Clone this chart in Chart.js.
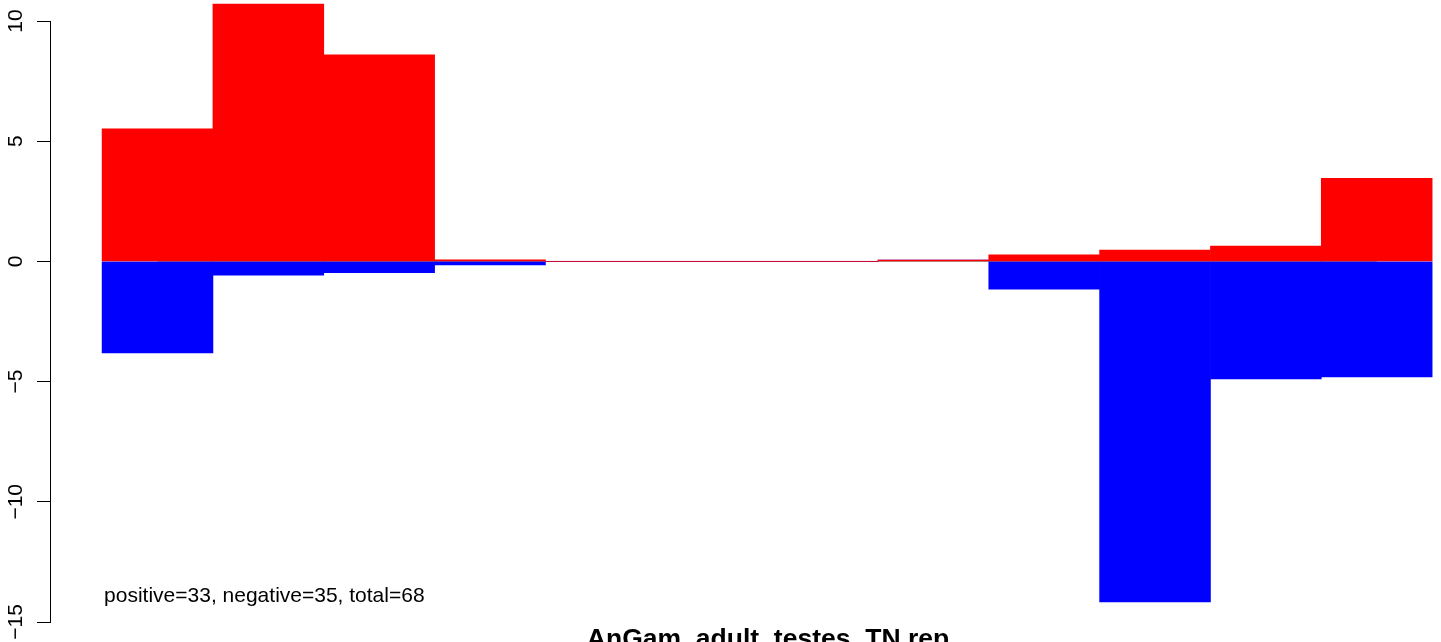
<!DOCTYPE html>
<html>
<head>
<meta charset="utf-8">
<title>AnGam_adult_testes_TN.rep</title>
<script src="https://cdn.jsdelivr.net/npm/chart.js@4/dist/chart.umd.min.js"></script>
<style>
  html, body { margin: 0; padding: 0; background: #ffffff; }
  #wrap { width: 1441px; height: 642px; }
</style>
</head>
<body>
<div id="wrap"><canvas id="bars" width="1441" height="642"></canvas></div>
<script>
// bins along the x axis (no labels are shown in the original)
const bins = [1, 2, 3, 4, 5, 6, 7, 8, 9, 10, 11, 12];
// red bars above zero, blue bars below zero
const positive = [5.51, 10.7, 8.59, 0.07, 0, 0, 0, 0.05, 0.27, 0.47, 0.64, 3.46];
const negative = [-3.81, -0.57, -0.47, -0.15, 0, 0, 0, 0, -1.15, -14.16, -4.89, -4.81];
const yTicks = [-15, -10, -5, 0, 5, 10];

const chartTitle = "AnGam_adult_testes_TN.rep";
const countsNote = "positive=33, negative=35, total=68";

Chart.defaults.font.family = '"Liberation Sans", Arial, Helvetica, sans-serif';
Chart.defaults.color = "#000000";

const toPoints = values => values.map((v, i) => ({ x: i + 0.5, y: v }));

// counts line at the bottom left and the bold title under the plot
const notesPlugin = {
  id: "notes",
  afterDraw(chart) {
    const { ctx } = chart;
    const x = chart.scales.x;
    ctx.save();
    ctx.fillStyle = "#000000";
    ctx.font = '21px "Liberation Sans", Arial, sans-serif';
    ctx.textAlign = "left";
    ctx.textBaseline = "alphabetic";
    ctx.fillText(countsNote, x.getPixelForValue(0) + 2, 602);
    ctx.font = 'bold 26.5px "Liberation Sans", Arial, sans-serif';
    ctx.textAlign = "center";
    ctx.fillText(chartTitle, 768, 647);
    ctx.restore();
  }
};

new Chart(document.getElementById("bars").getContext("2d"), {
  type: "bar",
  plugins: [notesPlugin],
  data: {
    datasets: [
      {
        label: "positive",
        data: toPoints(positive),
        backgroundColor: "#ff0000",
        borderWidth: 0,
        barPercentage: 1,
        categoryPercentage: 1,
        clip: false,
        order: 1
      },
      {
        label: "negative",
        data: toPoints(negative),
        backgroundColor: "#0000ff",
        borderWidth: 0,
        barPercentage: 1,
        categoryPercentage: 1,
        clip: false,
        order: 1
      },
      {
        type: "line",
        label: "zero",
        data: toPoints(bins.map(() => 0)),
        borderColor: "#999999",
        borderWidth: 1,
        pointRadius: 0,
        order: 2
      }
    ]
  },
  options: {
    responsive: false,
    devicePixelRatio: 1,
    animation: false,
    layout: { padding: { top: 21, bottom: 20, left: 0, right: 0 } },
    plugins: {
      legend: { display: false },
      tooltip: { enabled: false },
      title: { display: false }
    },
    scales: {
      x: {
        type: "linear",
        display: false,
        stacked: true,
        offset: false,
        min: -0.47,
        max: 12.08,
        afterBuildTicks: scale => {
          scale.ticks = bins.map((b, i) => ({ value: i + 0.5 }));
        }
      },
      y: {
        stacked: true,
        min: yTicks[0],
        max: yTicks[yTicks.length - 1],
        afterFit: scale => { scale.width = 50; },
        afterBuildTicks: scale => {
          scale.ticks = yTicks.map(v => ({ value: v }));
        },
        ticks: {
          font: { size: 21 },
          color: "#000000",
          minRotation: 90,
          maxRotation: 90,
          crossAlign: "center",
          padding: 3,
          autoSkip: false,
          callback: value => String(value).replace("-", "\u2212")
        },
        grid: {
          drawOnChartArea: false,
          drawTicks: true,
          tickLength: 13,
          color: "#000000",
          lineWidth: 1
        },
        border: { display: true, color: "#000000", width: 1 }
      }
    }
  }
});
</script>
</body>
</html>
